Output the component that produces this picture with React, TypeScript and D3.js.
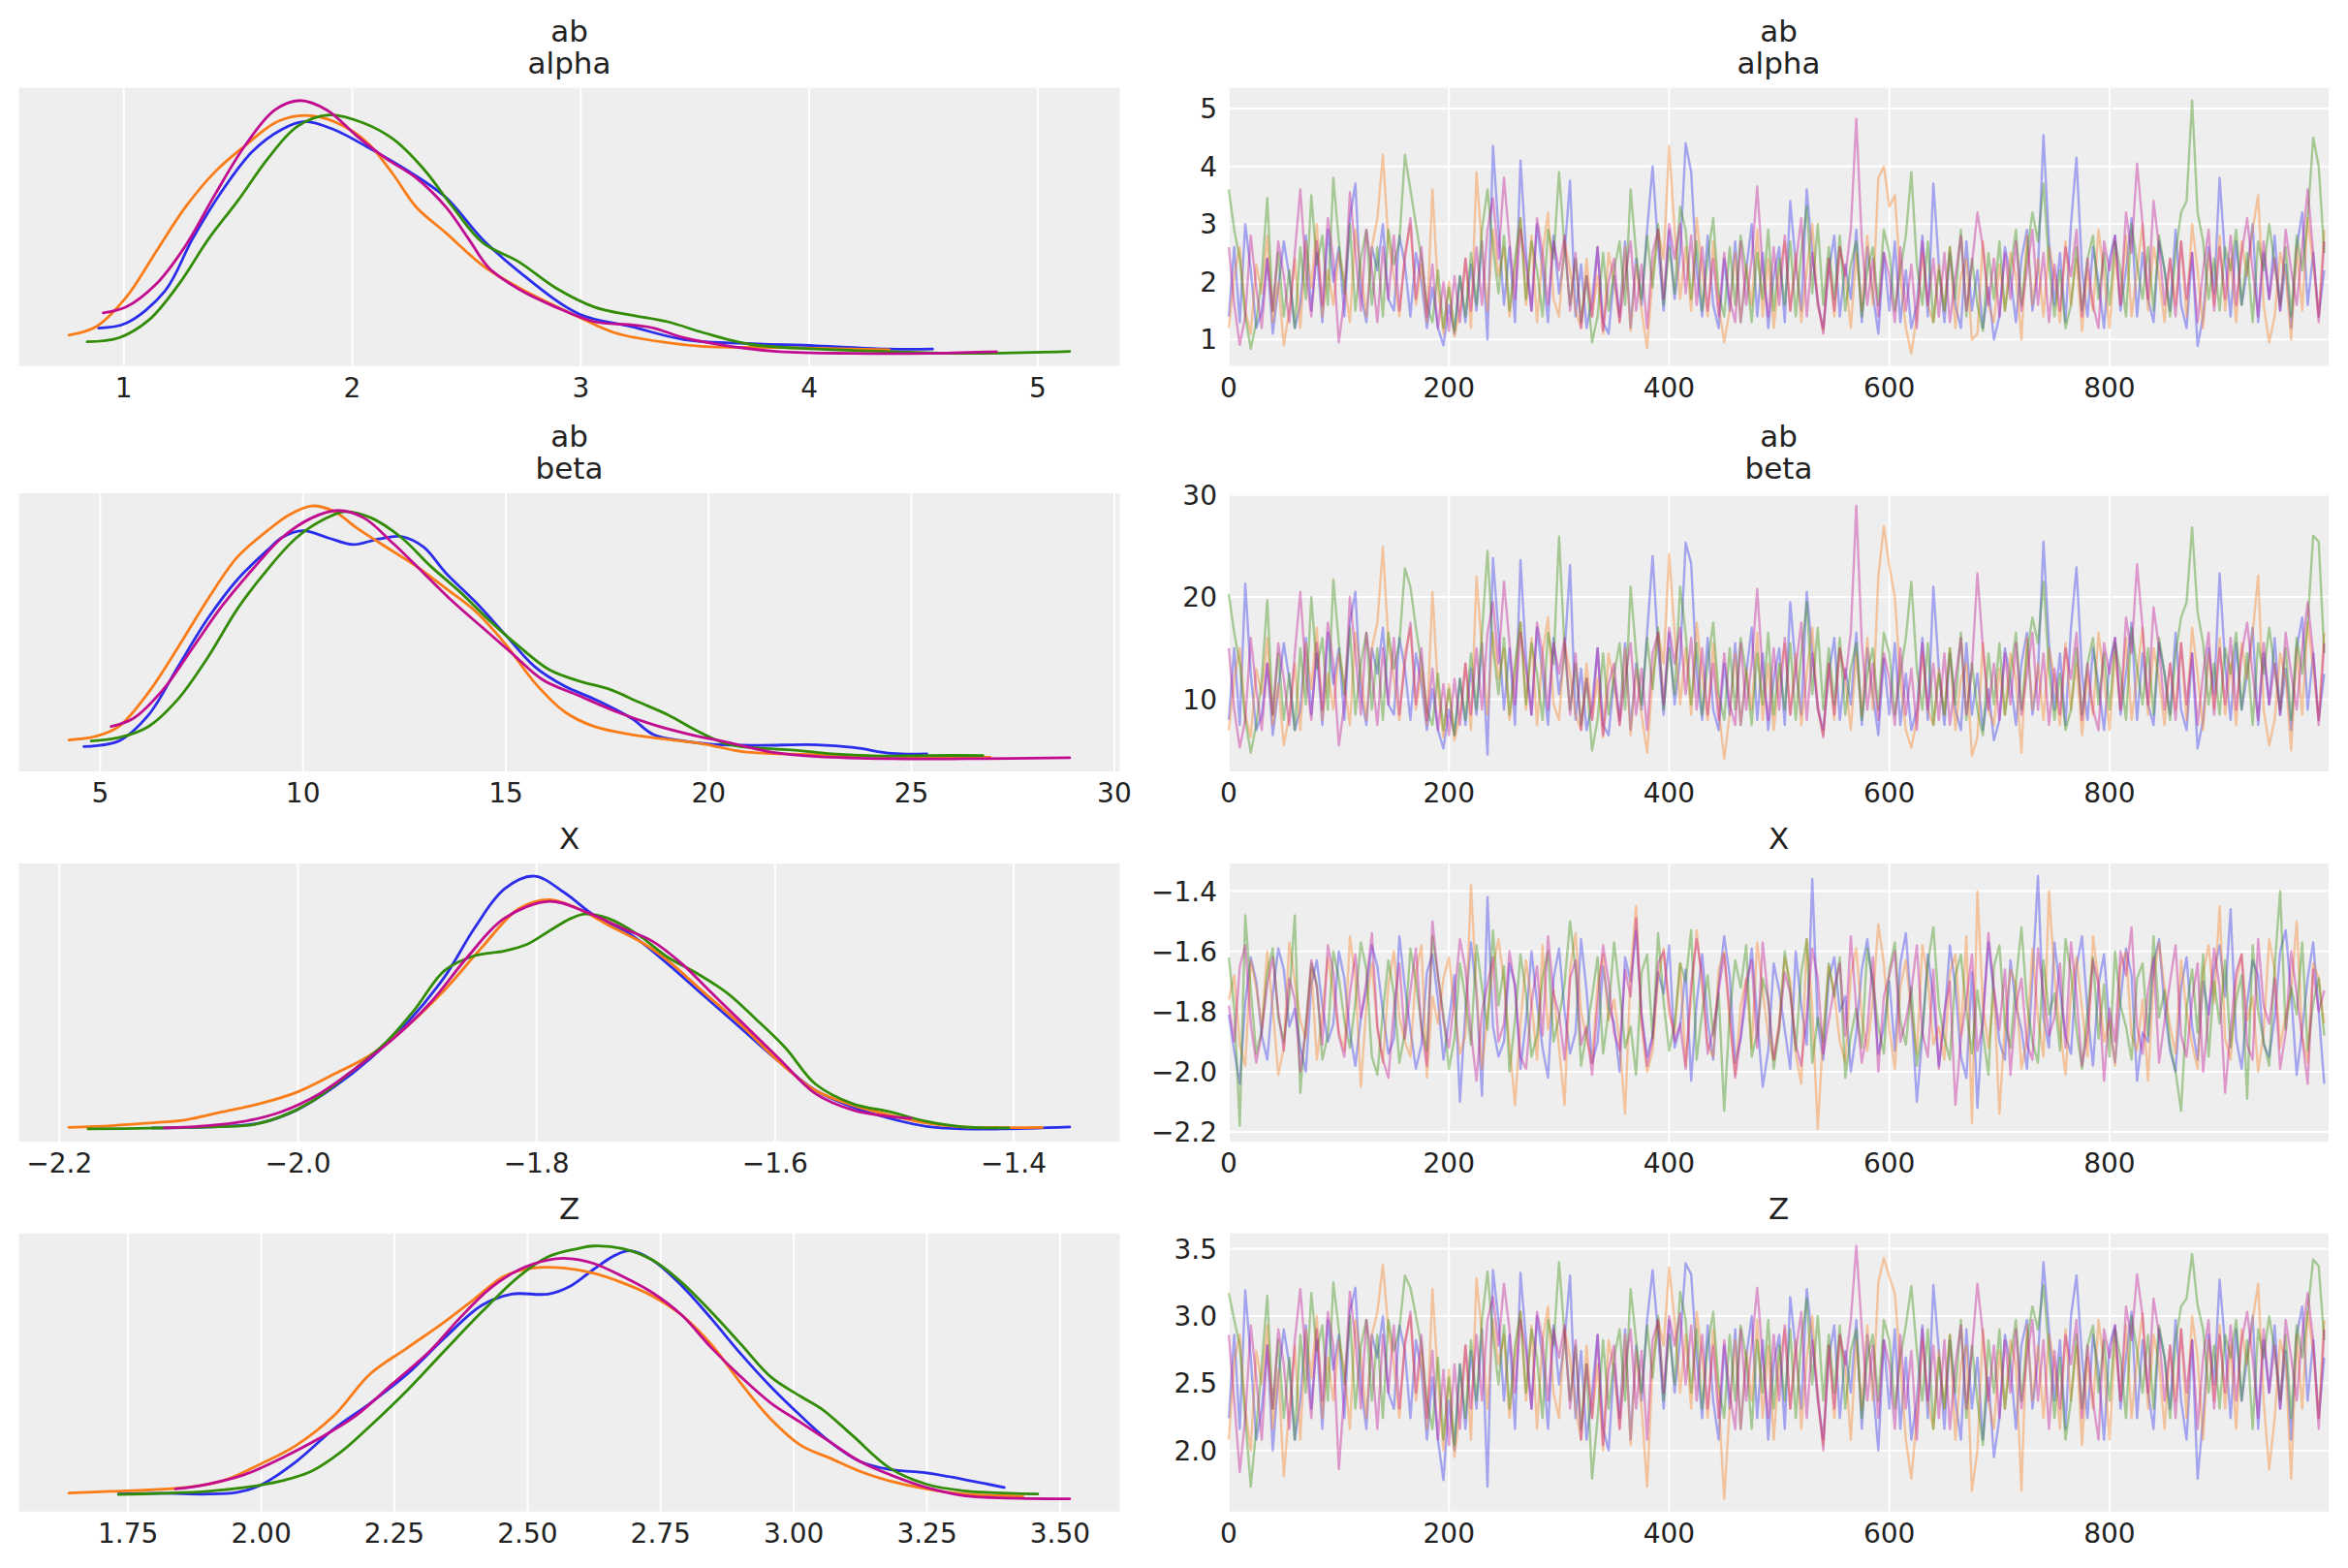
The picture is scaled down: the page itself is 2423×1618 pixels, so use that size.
import { useEffect, useRef } from 'react';
import * as d3 from 'd3';

const chainColors = ['#2a2eec', '#fa7c17', '#328c06', '#c10c90'];

// trace draws, every 5th draw kept
const thin = 5;
const drawRange: [number, number] = [0, 999];
const drawTicks = [0, 200, 400, 600, 800];

// ---- ab / alpha ----
const alphaBlue = [
  1.4, 2.6, 1.3, 3.0, 2.2, 1.2, 1.5, 2.4, 1.1, 1.9,
  2.7, 2.1, 1.2, 1.6, 2.8, 1.5, 2.5, 1.3, 2.9, 2.0,
  2.6, 1.4, 3.1, 3.7, 1.8, 1.3, 2.6, 2.2, 3.0, 1.7,
  1.5, 2.8, 2.3, 1.4, 2.5, 2.0, 1.2, 1.9, 1.2, 0.9,
  1.6, 1.1, 2.1, 1.3, 2.3, 1.5, 2.7, 1.0, 4.35, 2.9,
  1.6, 2.6, 1.3, 4.1, 2.5, 1.5, 3.0, 2.2, 1.3, 2.8,
  1.8, 2.5, 3.75, 1.4, 2.3, 1.2, 1.7, 2.6, 1.3, 1.1,
  2.1, 1.4, 2.7, 1.2, 2.4, 1.6, 2.9, 4.0, 2.6, 1.5,
  2.9, 1.7, 2.5, 4.4, 3.9, 2.2, 1.4, 2.8, 1.6, 1.2,
  2.4, 1.5, 2.7, 1.3, 2.2, 3.0, 1.4, 2.5, 1.2, 2.1,
  2.6, 1.3, 3.4, 2.3, 1.5, 3.6, 2.5, 1.6, 1.2, 2.2,
  2.8, 1.4, 2.3, 1.7, 2.9, 1.3, 2.6, 1.8, 1.1, 2.5,
  1.5, 2.7, 1.3, 2.2, 1.2, 1.6, 2.8, 1.4, 3.7, 2.3,
  1.3, 2.5, 1.6, 1.2, 2.7, 1.5, 2.2, 1.2, 1.9, 1.0,
  1.4, 2.6, 2.1, 1.3, 2.4, 2.9, 1.5, 2.2, 4.54, 2.7,
  1.6, 2.5, 1.3, 3.0, 4.15, 2.2, 1.4, 2.6, 2.0, 1.2,
  2.4, 2.8, 1.5, 2.2, 3.1, 1.4, 2.5, 1.7, 1.3, 2.7,
  2.2, 1.5, 2.9, 1.6, 1.2, 2.5, 0.89, 1.4, 2.6, 1.8,
  3.8, 2.4, 1.4, 2.7, 1.6, 2.2, 3.0, 1.3, 2.5, 1.7,
  2.8, 1.5, 2.3, 1.2, 2.6, 3.2, 1.6, 2.5, 1.4, 2.2,
];
const alphaOrange = [
  1.2, 2.1, 2.6, 1.5, 1.1, 2.3, 1.8, 2.8, 1.3, 2.0,
  0.9, 1.5, 2.4, 1.2, 2.7, 1.9, 3.0, 1.4, 2.2, 1.6,
  2.5, 2.0, 1.3, 2.9, 2.2, 1.4, 2.6, 3.1, 4.2, 2.7,
  2.1, 1.4, 2.5, 3.0, 1.6, 2.3, 1.3, 3.6, 1.9, 1.1,
  2.0, 1.05, 1.5, 2.4, 1.2, 3.9, 2.6, 1.5, 2.9, 2.1,
  2.6, 1.4, 2.2, 3.1, 1.6, 2.8, 1.3, 2.5, 3.2, 1.7,
  1.4, 2.7, 2.2, 1.5, 1.2, 2.4, 1.4, 2.1, 1.1, 2.5,
  2.0, 1.3, 2.6, 1.15, 2.3, 1.5, 0.85, 2.1, 2.9, 2.4,
  4.35, 2.9, 1.7, 2.6, 1.5, 3.1, 2.2, 1.4, 2.7, 1.6,
  0.95, 1.5, 2.5, 1.3, 2.3, 1.6, 2.9, 1.4, 2.4, 1.2,
  2.1, 2.7, 1.5, 2.5, 1.3, 2.2, 3.0, 1.6, 1.15, 2.4,
  1.4, 2.6, 2.1, 1.2, 2.5, 1.5, 2.8, 1.6, 3.8, 4.0,
  3.3, 3.5, 2.1, 1.2, 0.76, 1.4, 2.5, 1.6, 1.3, 2.3,
  1.5, 2.6, 1.2, 2.1, 2.4, 1.0, 1.1, 2.7, 1.6, 1.3,
  2.3, 1.5, 2.5, 2.1, 1.0, 2.8, 1.6, 2.4, 1.4, 2.6,
  2.1, 1.3, 2.7, 1.6, 2.4, 1.15, 2.2, 1.5, 2.9, 2.1,
  1.2, 2.5, 1.6, 2.8, 1.4, 2.2, 3.0, 1.5, 2.6, 2.1,
  1.3, 2.4, 1.6, 2.7, 1.4, 3.0, 2.2, 1.2, 2.5, 1.6,
  2.8, 1.5, 2.4, 1.3, 2.7, 2.1, 2.9, 3.5, 1.6, 0.95,
  1.4, 2.5, 2.1, 1.0, 2.6, 1.5, 3.1, 2.3, 1.4, 2.9,
];
const alphaGreen = [
  3.6, 2.9, 2.4, 1.4, 0.84, 1.3, 2.1, 3.45, 1.5, 2.5,
  1.4, 2.2, 1.2, 2.6, 1.7, 3.5, 2.3, 2.8, 1.6, 3.8,
  2.7, 1.8, 3.0, 1.5, 2.4, 2.9, 1.6, 2.6, 1.4, 2.9,
  2.3, 2.7, 4.2, 3.6, 3.0, 2.4, 1.6, 1.3, 2.2, 1.2,
  1.9, 1.15, 2.1, 1.4, 2.5, 1.6, 2.9, 3.6, 2.6, 1.8,
  2.8, 1.5, 2.4, 3.1, 1.7, 2.7, 2.2, 1.4, 2.9, 2.4,
  3.9, 2.6, 1.6, 2.4, 1.3, 2.1, 0.95, 1.4, 2.5, 1.5,
  2.2, 2.7, 1.6, 3.6, 2.5, 1.7, 2.8, 1.9, 3.0, 1.6,
  2.6, 1.8, 3.3, 2.9, 1.7, 2.7, 1.5, 2.4, 3.1, 1.8,
  1.4, 2.6, 1.6, 2.8, 2.2, 1.3, 2.5, 1.7, 2.9, 1.5,
  2.4, 1.6, 2.7, 1.4, 2.5, 3.3, 1.8, 3.0, 1.6, 2.6,
  1.7, 2.8, 1.5, 2.3, 2.7, 1.4, 2.2, 2.6, 1.6, 2.9,
  2.5, 1.5, 2.2, 2.8, 3.9, 2.3, 1.6, 2.7, 1.3, 2.2,
  1.5, 2.6, 1.7, 2.9, 1.4, 2.4, 1.6, 1.15, 2.5, 1.7,
  2.7, 1.5, 2.2, 2.9, 1.6, 2.5, 3.2, 2.7, 3.7, 2.3,
  1.4, 2.2, 1.2, 1.6, 2.6, 1.5, 2.4, 2.8, 1.7, 2.5,
  1.6, 2.7, 2.2, 1.4, 3.0, 2.3, 1.7, 2.6, 1.5, 2.8,
  2.2, 1.4, 2.5, 3.2, 3.4, 5.14, 3.2, 2.7, 1.7, 2.4,
  1.5, 2.6, 2.2, 2.9, 1.6, 2.5, 1.3, 2.7, 2.2, 3.0,
  2.3, 1.6, 2.6, 1.4, 2.8, 2.2, 3.1, 4.5, 4.0, 2.5,
];
const alphaMagenta = [
  2.6, 1.6, 0.91, 1.4, 2.8, 1.9, 1.2, 2.4, 1.5, 2.7,
  2.1, 1.3, 2.5, 3.6, 2.2, 1.4, 2.7, 1.6, 3.1, 2.4,
  0.95, 1.7, 3.55, 2.5, 1.5, 2.9, 2.2, 1.3, 2.6, 1.7,
  2.8, 1.5, 2.4, 3.1, 1.7, 2.6, 1.4, 2.3, 1.2, 2.0,
  1.15, 2.1, 1.3, 2.4, 1.5, 2.6, 1.6, 2.9, 3.45, 2.4,
  3.8, 2.7, 1.7, 2.9, 2.3, 1.5, 3.1, 2.5, 1.6, 2.7,
  2.2, 2.8, 1.5, 2.5, 1.2, 2.1, 1.4, 2.6, 1.15, 2.0,
  2.4, 1.3, 2.1, 2.7, 1.5, 2.3, 1.2, 2.5, 2.9, 1.7,
  3.0, 2.4, 3.0, 1.8, 2.8, 1.6, 2.6, 1.5, 2.4, 1.4,
  2.5, 1.7, 1.3, 2.7, 1.6, 2.4, 3.65, 2.2, 1.4, 2.6,
  1.6, 2.8, 1.5, 2.3, 3.1, 1.4, 2.5, 1.7, 1.1, 2.4,
  1.5, 2.6, 2.1, 2.9, 4.82, 2.7, 1.6, 2.4, 1.4, 2.5,
  2.1, 1.3, 2.6, 1.5, 2.3, 1.2, 2.7, 1.6, 2.4, 1.4,
  2.5, 1.3, 2.1, 2.8, 1.5, 2.3, 3.2, 2.6, 1.6, 2.4,
  1.4, 2.5, 1.7, 2.7, 1.5, 2.2, 2.9, 1.6, 2.5, 1.3,
  2.3, 1.5, 2.6, 2.1, 2.9, 1.4, 2.4, 1.6, 1.2, 2.7,
  2.2, 2.8, 1.6, 3.2, 2.5, 4.05, 3.0, 1.7, 3.4, 2.6,
  1.6, 2.4, 1.4, 2.7, 1.7, 2.5, 1.3, 2.2, 2.9, 1.5,
  2.6, 1.7, 2.8, 1.6, 2.5, 3.1, 2.2, 1.4, 2.7, 1.7,
  2.4, 1.5, 2.9, 2.2, 1.6, 2.6, 3.6, 2.5, 1.3, 2.7,
];

// ---- ab / beta ----
const betaBlue = [
  8, 15, 7.5, 21.3, 12.5, 7, 8.5, 13.5, 6.5, 11,
  15.5, 12, 7, 9, 16, 8.5, 14.5, 7.5, 16.5, 11.5,
  15, 8, 17.5, 20.5, 10.5, 7.5, 15, 12.5, 17, 9.5,
  8.5, 16, 13, 8, 14.5, 11.5, 7, 11, 7, 5.2,
  9, 6.5, 12, 7.5, 13, 8.5, 15.5, 4.6, 23.8, 16.5,
  9, 15, 7.5, 23.6, 14, 8.5, 17, 12.5, 7.5, 16,
  10.5, 14.5, 23.1, 8, 13, 7, 9.5, 15, 7.5, 6.5,
  12, 8, 15.5, 7, 13.5, 9, 16.5, 24, 15, 8.5,
  16.5, 9.5, 14, 25.3, 23.3, 12.5, 8, 16, 9, 7,
  13.5, 8.5, 15.5, 7.5, 12.5, 17, 8, 14.5, 7, 12,
  15, 7.5, 19.5, 13, 8.5, 20.5, 14.5, 9, 7, 12.5,
  16, 8, 13, 9.5, 16.5, 7.5, 15, 10.5, 6.5, 14,
  8.5, 15.5, 7.5, 12.5, 7, 9, 16, 8, 21, 13,
  7.5, 14.5, 9, 7, 15.5, 8.5, 12.5, 7, 11, 6,
  8, 15, 12, 7.5, 13.5, 16.5, 8.5, 12.5, 25.4, 15.5,
  9, 14.5, 7.5, 17, 22.9, 12.5, 8, 15, 11.5, 7,
  13.5, 16, 8.5, 12.5, 17.5, 8, 14.5, 9.5, 7.5, 15.5,
  12.5, 8.5, 16.5, 9, 7, 14.5, 5.2, 8, 15, 10.5,
  22.3, 13.5, 8, 15.5, 9, 12.5, 17, 7.5, 14.5, 9.5,
  16, 8.5, 13, 7, 15, 18, 9, 14.5, 8, 12.5,
];
const betaOrange = [
  7, 12, 15, 8.5, 6.3, 13, 10.5, 16, 7.5, 11.5,
  5.5, 8.5, 13.5, 7, 15.5, 11, 17, 8, 12.5, 9,
  14.5, 11.5, 7.5, 16.5, 12.5, 8, 15, 17.5, 24.9, 15.5,
  12, 8, 14.5, 17, 9, 13, 7.5, 20.5, 11, 6.3,
  11.5, 6, 8.5, 13.5, 7, 22, 15, 8.5, 16.5, 12,
  15, 8, 12.5, 17.5, 9, 16, 7.5, 14.5, 18, 9.5,
  8, 15.5, 12.5, 8.5, 7, 13.5, 8, 12, 6.3, 14.5,
  11.5, 7.5, 15, 6.5, 13, 8.5, 4.8, 12, 16.5, 13.5,
  24.2, 16.5, 9.5, 15, 8.5, 17.5, 12.5, 8, 15.5, 9,
  4.2, 8.5, 14.5, 7.5, 13, 9, 16.5, 8, 13.5, 7,
  12, 15.5, 8.5, 14.5, 7.5, 12.5, 17, 9, 6.5, 13.5,
  8, 15, 12, 7, 14.5, 8.5, 16, 9, 22, 26.9,
  23, 20, 12, 7, 5.3, 8, 14.5, 9, 7.5, 13,
  8.5, 15, 7, 12, 13.5, 4.5, 6.3, 15.5, 9, 7.5,
  13, 8.5, 14.5, 12, 4.8, 16, 9, 13.5, 8, 15,
  12, 7.5, 15.5, 9, 13.5, 6.5, 12.5, 8.5, 16.5, 12,
  7, 14.5, 9, 16, 8, 12.5, 17, 8.5, 15, 12,
  7.5, 13.5, 9, 15.5, 8, 17, 12.5, 7, 14.5, 9,
  16, 8.5, 13.5, 7.5, 15.5, 12, 16.5, 22.1, 9, 5.5,
  8, 14.5, 12, 5, 15, 8.5, 17.5, 13, 8, 16.5,
];
const betaGreen = [
  20.3, 16.5, 13.5, 8, 4.8, 7.5, 12, 19.7, 8.5, 14.5,
  8, 12.5, 7, 15, 9.5, 20, 13, 16, 9, 21.7,
  15.5, 10.5, 17, 8.5, 13.5, 16.5, 9, 15, 8, 16.5,
  13, 15.5, 22.8, 21, 17, 13.5, 9, 7.5, 12.5, 7,
  11, 6.5, 12, 8, 14.5, 9, 16.5, 24.5, 15, 10.5,
  16, 8.5, 13.5, 17.5, 9.5, 15.5, 12.5, 8, 16.5, 13.5,
  25.9, 15, 9, 13.5, 7.5, 12, 5, 8, 14.5, 8.5,
  12.5, 15.5, 9, 21, 14.5, 9.5, 16, 11, 17, 9,
  15, 10.5, 21, 16.5, 9.5, 15.5, 8.5, 13.5, 17.5, 10.5,
  8, 15, 9, 16, 12.5, 7.5, 14.5, 9.5, 16.5, 8.5,
  13.5, 9, 15.5, 8, 14.5, 19.5, 10.5, 17, 9, 15,
  9.5, 16, 8.5, 13, 15.5, 8, 12.5, 15, 9, 16.5,
  14.5, 8.5, 12.5, 16, 21.5, 13, 9, 15.5, 7.5, 12.5,
  8.5, 15, 9.5, 16.5, 8, 13.5, 9, 6.5, 14.5, 9.5,
  15.5, 8.5, 12.5, 16.5, 9, 14.5, 18, 15.5, 21.5, 13,
  8, 12.5, 7, 9, 15, 8.5, 13.5, 16, 9.5, 14.5,
  9, 15.5, 12.5, 8, 17, 13, 9.5, 15, 8.5, 16,
  12.5, 8, 14.5, 18, 19.5, 26.8, 18.5, 15.5, 9.5, 13.5,
  8.5, 15, 12.5, 16.5, 9, 14.5, 7.5, 15.5, 12.5, 17,
  13, 9, 15, 8, 16, 12.5, 17.5, 26, 25.4, 14.5,
];
const betaMagenta = [
  15, 9, 5.3, 8, 16, 11, 7, 13.5, 8.5, 15.5,
  12, 7.5, 14.5, 20.5, 12.5, 8, 15.5, 9, 17.5, 13.5,
  5.5, 9.5, 20, 14.5, 8.5, 16.5, 12.5, 7.5, 15, 9.5,
  16, 8.5, 13.5, 17.5, 9.5, 15, 8, 13, 7, 11.5,
  6.5, 12, 7.5, 13.5, 8.5, 15, 9, 16.5, 19.5, 13.5,
  21.5, 15.5, 9.5, 16.5, 13, 8.5, 17.5, 14.5, 9, 15.5,
  12.5, 16, 8.5, 14.5, 7, 12, 8, 15, 6.5, 11.5,
  13.5, 7.5, 12, 15.5, 8.5, 13, 7, 14.5, 16.5, 9.5,
  17, 13.5, 17, 10.5, 16, 9, 15, 8.5, 13.5, 8,
  14.5, 9.5, 7.5, 15.5, 9, 13.5, 20.8, 12.5, 8, 15,
  9, 16, 8.5, 13, 17.5, 8, 14.5, 9.5, 6.3, 13.5,
  8.5, 15, 12, 16.5, 28.9, 15.5, 9, 13.5, 8, 14.5,
  12, 7.5, 15, 8.5, 13, 7, 15.5, 9, 13.5, 8,
  14.5, 7.5, 12, 16, 8.5, 13, 22.3, 15, 9, 13.5,
  8, 14.5, 9.5, 15.5, 8.5, 12.5, 16.5, 9, 14.5, 7.5,
  13, 8.5, 15, 12, 16.5, 8, 13.5, 9, 7, 15.5,
  12.5, 16, 9, 18, 14.5, 23.2, 17, 9.5, 19, 15,
  9, 13.5, 8, 15.5, 9.5, 14.5, 7.5, 12.5, 16.5, 8.5,
  15, 9.5, 16, 9, 14.5, 17.5, 12.5, 8, 15.5, 9.5,
  13.5, 8.5, 16.5, 12.5, 9, 15, 19.5, 14.5, 7.5, 15.5,
];

// ---- X ----
const xBlue = [
  -1.81, -1.93, -2.04, -1.77, -1.62, -1.70, -1.88, -1.96, -1.74, -1.59,
  -1.66, -1.85, -1.79, -1.92, -2.00, -1.71, -1.63, -1.78, -1.90, -1.84,
  -1.60, -1.69, -1.87, -1.98, -1.82, -1.73, -1.58, -1.65, -1.80, -1.94,
  -1.89, -1.55, -1.72, -1.86, -1.99, -1.91, -1.67, -1.61, -1.76, -1.96,
  -1.83, -1.68, -2.10, -1.79, -1.57, -1.74, -2.08, -1.42, -1.85, -1.95,
  -1.90, -1.64, -1.71, -1.99, -1.83, -1.60, -1.77, -1.92, -2.02, -1.69,
  -1.59, -1.80, -1.94, -1.87, -1.56, -1.73, -1.97, -1.90, -1.65, -1.78,
  -1.84, -2.00, -1.62, -1.70, -1.53, -1.81, -1.95, -1.88, -1.67, -1.74,
  -1.58, -1.92, -1.85, -1.66, -2.03, -1.77, -1.61, -1.83, -1.96, -1.71,
  -1.55, -1.68, -1.97, -1.89, -1.75, -1.59, -1.82, -2.05, -1.93, -1.64,
  -1.73, -1.86, -1.99, -1.60, -1.78, -1.91, -1.36, -1.84, -1.96, -1.69,
  -1.62, -1.80, -1.75, -2.00, -1.87, -1.66, -1.56, -1.72, -1.94, -1.85,
  -1.70, -1.93, -1.64, -1.54, -1.79, -2.10, -1.88, -1.61, -1.76, -1.98,
  -1.83, -1.58, -1.72, -1.95, -2.02, -1.67, -2.12, -1.81, -1.57, -1.74,
  -1.90, -1.96, -1.63, -1.78, -1.86, -1.99, -1.69, -1.35, -1.82, -1.92,
  -1.57, -1.73, -1.88, -1.94, -1.65, -1.55, -1.80, -1.98, -1.71, -1.61,
  -1.84, -1.97, -1.76, -1.59, -1.68, -2.03, -1.87, -1.90, -1.64, -1.56,
  -1.79, -1.93, -2.00, -1.72, -1.62, -1.85, -1.96, -1.70, -1.81, -1.66,
  -1.58, -1.75, -1.46, -1.89, -1.99, -1.77, -1.63, -1.68, -1.91, -1.95,
  -1.82, -1.60, -1.53, -1.74, -2.01, -1.86, -1.69, -1.57, -1.80, -2.04,
];
const xOrange = [
  -1.76, -1.68, -1.91, -1.98, -1.63, -1.72, -1.85, -1.60, -1.79, -2.01,
  -1.92, -1.57, -1.70, -1.83, -1.89, -1.66, -1.96, -1.81, -1.62, -1.74,
  -1.87, -1.93, -1.55, -1.69, -2.05, -1.78, -1.64, -1.86, -1.97, -1.71,
  -1.60, -1.82, -1.90, -1.95, -1.67, -1.58, -2.02, -1.75, -1.84, -1.69,
  -1.62, -1.79, -1.94, -1.88, -1.38, -1.73, -1.99, -1.81, -1.65, -1.56,
  -1.70, -1.91, -2.11, -1.84, -1.63, -1.77, -1.96, -1.58, -1.86, -1.73,
  -1.92, -2.11, -1.66, -1.54, -1.80, -1.89, -1.97, -1.71, -1.61, -1.83,
  -1.76, -1.90, -2.14, -1.67, -1.45, -1.85, -2.00, -1.93, -1.69, -1.59,
  -1.81, -1.87, -1.64, -1.98, -1.75, -1.53, -1.72, -1.91, -1.95, -1.66,
  -1.60, -1.84, -2.01, -1.78, -1.69, -1.92, -1.57, -1.73, -1.88, -1.96,
  -1.83, -1.62, -1.70, -1.94, -2.04, -1.56, -1.79, -2.19, -1.87, -1.65,
  -1.74, -1.90, -1.97, -1.68, -1.59, -1.82, -1.93, -1.76, -1.51, -1.64,
  -1.86, -1.99, -1.72, -1.63, -1.80, -1.94, -1.58, -1.69, -1.91, -1.85,
  -1.96, -1.67, -1.61, -1.88, -1.55, -2.17, -1.40, -1.78, -1.92, -1.73,
  -2.14, -1.84, -1.66, -1.71, -1.99, -1.89, -1.59, -1.82, -1.95, -1.40,
  -1.68, -1.86, -2.01, -1.74, -1.62, -1.79, -1.95, -1.55, -1.70, -1.90,
  -1.83, -1.98, -1.65, -1.60, -1.88, -1.93, -1.76, -2.03, -1.69, -1.57,
  -1.72, -1.85, -1.94, -1.63, -1.80, -1.91, -1.99, -1.67, -1.58, -1.77,
  -1.45, -1.89, -1.96, -1.70, -1.61, -1.83, -1.75, -2.00, -1.87, -1.56,
  -1.66, -1.92, -1.81, -1.73, -1.50, -1.88, -1.97, -1.64, -1.69, -1.84,
];
const xGreen = [
  -1.62, -1.79, -2.18, -1.48, -1.73, -1.94, -1.86, -1.67, -1.59, -1.82,
  -1.90, -1.75, -1.48, -2.07, -1.84, -1.64, -1.71, -1.96, -1.88, -1.60,
  -1.69, -1.83, -1.92, -1.77, -1.57, -1.66, -1.95, -2.01, -1.80, -1.63,
  -1.74, -1.97, -1.87, -1.59, -1.70, -1.85, -1.93, -1.55, -1.68, -1.81,
  -1.99, -1.89, -1.64, -1.76, -1.91, -1.58, -1.72, -1.86, -1.53, -1.78,
  -1.65, -2.00, -1.83, -1.61, -1.74, -1.95, -1.88, -1.69, -1.60, -1.90,
  -1.82, -1.71, -1.50, -1.66, -1.98, -1.87, -1.75, -1.62, -1.94, -1.80,
  -1.57, -1.73, -1.92, -1.85, -2.01, -1.67, -1.61, -1.89, -1.54, -1.77,
  -1.93, -1.84, -1.64, -1.70, -1.53, -1.96, -1.80, -1.68, -1.88, -1.74,
  -2.13, -1.81, -1.63, -1.72, -1.58, -1.95, -1.87, -1.69, -1.76, -1.99,
  -1.86, -1.60, -1.73, -1.93, -1.67, -1.56, -1.97, -1.82, -1.90, -1.64,
  -1.75, -1.62, -2.02, -1.88, -1.79, -1.92, -1.59, -1.70, -1.85, -1.94,
  -1.66, -1.57, -1.83, -1.91, -1.72, -1.98, -1.86, -1.64, -1.52, -1.78,
  -1.89, -1.96, -1.68, -1.61, -1.80, -1.94, -1.73, -1.87, -2.01, -1.65,
  -1.58, -1.84, -1.92, -1.70, -1.52, -1.77, -1.90, -1.97, -1.63, -1.81,
  -1.74, -1.93, -1.56, -1.67, -1.86, -1.99, -1.80, -1.62, -1.89, -1.71,
  -1.95, -1.60, -1.78, -1.85, -1.96, -1.69, -1.64, -1.88, -1.55, -1.82,
  -1.73, -1.91, -2.00, -2.13, -1.79, -1.66, -1.87, -1.61, -1.95, -1.70,
  -1.84, -1.63, -1.92, -1.76, -1.68, -2.09, -1.58, -1.80, -1.90, -1.98,
  -1.65, -1.40, -1.86, -1.72, -1.81, -1.57, -1.93, -1.77, -1.69, -1.88,
];
const xMagenta = [
  -1.78, -1.90, -1.65, -1.58, -1.84, -1.97, -1.87, -1.71, -1.62, -1.80,
  -1.93, -1.69, -1.76, -2.00, -1.86, -1.63, -1.72, -1.91, -1.58, -1.67,
  -1.88, -1.95, -1.74, -1.61, -1.82, -1.70, -1.54, -1.85, -1.96, -2.02,
  -1.79, -1.64, -1.89, -1.73, -1.59, -1.86, -1.98, -1.50, -1.68, -1.83,
  -1.92, -1.75, -1.56, -1.66, -1.87, -2.03, -1.80, -1.71, -1.62, -1.90,
  -1.84, -1.60, -1.72, -1.95, -1.99, -1.77, -1.65, -1.88, -1.55, -1.74,
  -1.81, -1.96, -1.69, -1.63, -1.91, -1.85, -2.01, -1.78, -1.58, -1.70,
  -1.87, -1.93, -1.66, -1.75, -1.49, -1.82, -1.98, -1.89, -1.64, -1.60,
  -1.77, -1.90, -1.84, -1.99, -1.71, -1.56, -1.68, -1.94, -1.86, -1.73,
  -1.61, -1.80, -2.02, -1.88, -1.70, -1.63, -1.92, -1.57, -1.76, -1.96,
  -1.85, -1.67, -1.74, -1.91, -1.98, -1.81, -1.59, -1.69, -1.94, -1.83,
  -1.72, -1.64, -1.88, -1.55, -1.79, -1.97, -1.86, -1.62, -2.00, -1.75,
  -1.68, -1.60, -1.90, -1.83, -1.73, -1.58, -1.87, -1.95, -1.66, -1.99,
  -1.80, -1.70, -2.11, -1.89, -1.76, -1.61, -1.93, -1.84, -1.54, -1.72,
  -1.86, -1.66, -2.01, -1.78, -1.69, -1.91, -1.96, -1.59, -1.74, -1.88,
  -1.82, -1.64, -1.92, -1.57, -1.75, -1.98, -1.87, -1.63, -1.71, -2.03,
  -1.79, -1.90, -1.60, -1.68, -1.52, -1.85, -1.94, -1.73, -1.62, -1.97,
  -1.83, -1.70, -1.58, -1.88, -1.95, -1.76, -1.64, -2.00, -1.81, -1.59,
  -1.72, -2.07, -1.86, -1.67, -1.61, -1.91, -1.96, -1.56, -1.78, -1.84,
  -1.69, -1.99, -1.87, -1.60, -1.74, -1.89, -2.04, -1.66, -1.80, -1.73,
];

// ---- Z ----
const zBlue = [
  2.24, 2.86, 2.16, 3.19, 2.69, 2.08, 2.31, 2.78, 2.00, 2.54,
  2.90, 2.64, 2.08, 2.37, 2.93, 2.31, 2.82, 2.16, 2.97, 2.60,
  2.86, 2.24, 3.03, 3.21, 2.49, 2.16, 2.86, 2.69, 3.00, 2.43,
  2.31, 2.93, 2.74, 2.24, 2.82, 2.60, 2.08, 2.54, 2.08, 1.78,
  2.37, 2.00, 2.64, 2.16, 2.74, 2.31, 2.90, 1.73, 3.34, 2.97,
  2.37, 2.86, 2.16, 3.32, 2.82, 2.31, 3.00, 2.69, 2.16, 2.93,
  2.49, 2.82, 3.30, 2.24, 2.74, 2.08, 2.43, 2.86, 2.16, 2.00,
  2.64, 2.24, 2.90, 2.08, 2.78, 2.37, 2.97, 3.34, 2.86, 2.31,
  2.97, 2.43, 2.82, 3.39, 3.31, 2.69, 2.24, 2.93, 2.37, 2.08,
  2.78, 2.31, 2.90, 2.16, 2.69, 3.00, 2.24, 2.82, 2.08, 2.64,
  2.86, 2.16, 3.14, 2.74, 2.31, 3.20, 2.82, 2.37, 2.08, 2.69,
  2.93, 2.24, 2.74, 2.43, 2.97, 2.16, 2.86, 2.49, 2.00, 2.82,
  2.31, 2.90, 2.16, 2.69, 2.08, 2.37, 2.93, 2.24, 3.23, 2.74,
  2.16, 2.82, 2.37, 2.08, 2.90, 2.31, 2.69, 2.08, 2.54, 1.95,
  2.24, 2.86, 2.64, 2.16, 2.78, 2.97, 2.31, 2.69, 3.40, 2.90,
  2.37, 2.82, 2.16, 3.00, 3.30, 2.69, 2.24, 2.86, 2.60, 2.08,
  2.78, 2.93, 2.31, 2.69, 3.03, 2.24, 2.82, 2.43, 2.16, 2.90,
  2.69, 2.31, 2.97, 2.37, 2.08, 2.82, 1.79, 2.24, 2.86, 2.49,
  3.27, 2.78, 2.24, 2.90, 2.37, 2.69, 3.00, 2.16, 2.82, 2.43,
  2.93, 2.31, 2.74, 2.08, 2.86, 3.07, 2.37, 2.82, 2.24, 2.69,
];
const zOrange = [
  2.08, 2.66, 2.86, 2.31, 2.00, 2.74, 2.49, 2.93, 2.16, 2.60,
  1.81, 2.31, 2.78, 2.08, 2.90, 2.54, 3.00, 2.24, 2.69, 2.37,
  2.82, 2.60, 2.16, 2.97, 2.69, 2.24, 2.86, 3.03, 3.38, 2.90,
  2.64, 2.24, 2.82, 3.00, 2.37, 2.74, 2.16, 3.20, 2.54, 2.00,
  2.60, 1.95, 2.31, 2.78, 2.08, 3.28, 2.86, 2.31, 2.97, 2.64,
  2.86, 2.24, 2.69, 3.03, 2.37, 2.93, 2.16, 2.82, 3.07, 2.43,
  2.24, 2.90, 2.69, 2.31, 2.08, 2.78, 2.24, 2.64, 2.00, 2.82,
  2.60, 2.16, 2.86, 2.04, 2.74, 2.31, 1.73, 2.64, 2.97, 2.78,
  3.36, 2.97, 2.43, 2.86, 2.31, 3.03, 2.69, 2.24, 2.90, 2.37,
  1.64, 2.31, 2.82, 2.16, 2.74, 2.37, 2.97, 2.24, 2.78, 2.08,
  2.64, 2.90, 2.31, 2.82, 2.16, 2.69, 3.00, 2.37, 2.04, 2.78,
  2.24, 2.86, 2.64, 2.08, 2.82, 2.31, 2.93, 2.37, 3.25, 3.43,
  3.29, 3.17, 2.64, 2.08, 1.79, 2.24, 2.82, 2.37, 2.16, 2.74,
  2.31, 2.86, 2.08, 2.64, 2.78, 1.70, 2.00, 2.90, 2.37, 2.16,
  2.74, 2.31, 2.82, 2.64, 1.70, 2.93, 2.37, 2.78, 2.24, 2.86,
  2.64, 2.16, 2.90, 2.37, 2.78, 2.04, 2.69, 2.31, 2.97, 2.64,
  2.08, 2.82, 2.37, 2.93, 2.24, 2.69, 3.02, 2.31, 2.86, 2.64,
  2.16, 2.78, 2.37, 2.90, 2.24, 3.00, 2.69, 2.08, 2.82, 2.37,
  2.93, 2.31, 2.78, 2.16, 2.90, 2.64, 2.97, 3.24, 2.37, 1.86,
  2.24, 2.82, 2.64, 1.79, 2.86, 2.31, 3.03, 2.74, 2.24, 2.97,
];
const zGreen = [
  3.17, 2.97, 2.78, 2.24, 1.73, 2.16, 2.64, 3.15, 2.31, 2.82,
  2.24, 2.69, 2.08, 2.86, 2.43, 3.17, 2.74, 2.93, 2.37, 3.25,
  2.90, 2.49, 3.00, 2.31, 2.78, 2.97, 2.37, 2.86, 2.24, 2.97,
  2.74, 2.90, 3.30, 3.21, 3.00, 2.78, 2.37, 2.16, 2.69, 2.08,
  2.54, 2.04, 2.64, 2.24, 2.82, 2.37, 2.97, 3.33, 2.86, 2.49,
  2.93, 2.31, 2.78, 3.03, 2.43, 2.90, 2.69, 2.24, 2.97, 2.78,
  3.40, 2.86, 2.37, 2.78, 2.16, 2.64, 1.79, 2.24, 2.82, 2.31,
  2.69, 2.90, 2.37, 3.20, 2.82, 2.43, 2.93, 2.54, 3.00, 2.37,
  2.86, 2.49, 3.18, 2.97, 2.43, 2.90, 2.31, 2.78, 3.03, 2.49,
  2.24, 2.86, 2.37, 2.93, 2.69, 2.16, 2.82, 2.43, 2.97, 2.31,
  2.78, 2.37, 2.90, 2.24, 2.82, 3.13, 2.49, 3.00, 2.37, 2.86,
  2.43, 2.93, 2.31, 2.74, 2.90, 2.24, 2.69, 2.86, 2.37, 2.97,
  2.82, 2.31, 2.69, 2.93, 3.22, 2.74, 2.37, 2.90, 2.16, 2.69,
  2.31, 2.86, 2.43, 2.97, 2.24, 2.78, 2.37, 2.04, 2.82, 2.43,
  2.90, 2.31, 2.69, 2.97, 2.37, 2.82, 3.07, 2.90, 3.23, 2.74,
  2.24, 2.69, 2.08, 2.37, 2.86, 2.31, 2.78, 2.93, 2.43, 2.82,
  2.37, 2.90, 2.69, 2.24, 3.00, 2.74, 2.43, 2.86, 2.31, 2.93,
  2.69, 2.24, 2.82, 3.07, 3.13, 3.46, 3.08, 2.90, 2.43, 2.78,
  2.31, 2.86, 2.69, 2.97, 2.37, 2.82, 2.16, 2.90, 2.69, 3.00,
  2.74, 2.37, 2.86, 2.24, 2.93, 2.69, 3.03, 3.42, 3.37, 2.82,
];
const zMagenta = [
  2.86, 2.37, 1.84, 2.24, 2.93, 2.54, 2.08, 2.78, 2.31, 2.90,
  2.64, 2.16, 2.82, 3.20, 2.69, 2.24, 2.90, 2.37, 3.03, 2.78,
  1.86, 2.43, 3.18, 2.82, 2.31, 2.97, 2.69, 2.16, 2.86, 2.43,
  2.93, 2.31, 2.78, 3.03, 2.43, 2.86, 2.24, 2.74, 2.08, 2.60,
  2.04, 2.64, 2.16, 2.78, 2.31, 2.86, 2.37, 2.97, 3.14, 2.78,
  3.24, 2.90, 2.43, 2.97, 2.74, 2.31, 3.03, 2.82, 2.37, 2.90,
  2.69, 2.93, 2.31, 2.82, 2.08, 2.64, 2.24, 2.86, 2.04, 2.60,
  2.78, 2.16, 2.64, 2.90, 2.31, 2.74, 2.08, 2.82, 2.97, 2.43,
  3.00, 2.78, 3.02, 2.49, 2.93, 2.37, 2.86, 2.31, 2.78, 2.24,
  2.82, 2.43, 2.16, 2.90, 2.37, 2.78, 3.21, 2.69, 2.24, 2.86,
  2.37, 2.93, 2.31, 2.74, 3.03, 2.24, 2.82, 2.43, 2.00, 2.78,
  2.31, 2.86, 2.64, 2.97, 3.52, 2.90, 2.37, 2.78, 2.24, 2.82,
  2.64, 2.16, 2.86, 2.31, 2.74, 2.08, 2.90, 2.37, 2.78, 2.24,
  2.82, 2.16, 2.64, 2.93, 2.31, 2.74, 3.24, 2.86, 2.37, 2.78,
  2.24, 2.82, 2.43, 2.90, 2.31, 2.69, 2.97, 2.37, 2.82, 2.16,
  2.74, 2.31, 2.86, 2.64, 2.97, 2.24, 2.78, 2.37, 2.08, 2.90,
  2.69, 2.93, 2.37, 3.07, 2.82, 3.31, 3.00, 2.43, 3.13, 2.86,
  2.37, 2.78, 2.24, 2.90, 2.43, 2.82, 2.16, 2.69, 2.97, 2.31,
  2.86, 2.43, 2.93, 2.37, 2.82, 3.03, 2.69, 2.24, 2.90, 2.43,
  2.78, 2.31, 2.97, 2.69, 2.37, 2.86, 3.17, 2.82, 2.16, 2.90,
];

// ---- kernel density estimates: [value, relative density] ----
const alphaKdeBlue = [[0.89, 0.101], [1.01, 0.12], [1.18, 0.247], [1.3, 0.452], [1.43, 0.643], [1.56, 0.796], [1.69, 0.885], [1.79, 0.917], [1.92, 0.885], [2.08, 0.809], [2.25, 0.719], [2.41, 0.617], [2.57, 0.452], [2.73, 0.324], [2.99, 0.158], [3.22, 0.107], [3.45, 0.056], [3.7, 0.041], [4.03, 0.031], [4.35, 0.018], [4.54, 0.018]];
const alphaKdeOrange = [[0.76, 0.073], [0.88, 0.107], [1.01, 0.222], [1.14, 0.401], [1.27, 0.579], [1.4, 0.719], [1.53, 0.821], [1.66, 0.911], [1.76, 0.939], [1.86, 0.934], [1.99, 0.885], [2.08, 0.821], [2.18, 0.707], [2.28, 0.579], [2.41, 0.477], [2.57, 0.349], [2.73, 0.26], [2.99, 0.145], [3.15, 0.082], [3.38, 0.043], [3.54, 0.028], [3.87, 0.024], [4.35, 0.015]];
const alphaKdeGreen = [[0.84, 0.047], [0.98, 0.063], [1.11, 0.133], [1.24, 0.273], [1.37, 0.452], [1.5, 0.605], [1.63, 0.77], [1.76, 0.898], [1.9, 0.943], [2.05, 0.911], [2.18, 0.847], [2.31, 0.732], [2.44, 0.579], [2.57, 0.439], [2.73, 0.362], [2.89, 0.26], [3.06, 0.184], [3.22, 0.152], [3.38, 0.126], [3.54, 0.082], [3.74, 0.037], [4.03, 0.018], [4.35, 0.008], [4.68, 0.001], [5.14, 0.009]];
const alphaKdeMagenta = [[0.91, 0.161], [1.01, 0.184], [1.14, 0.273], [1.27, 0.426], [1.4, 0.63], [1.53, 0.821], [1.66, 0.962], [1.77, 1.0], [1.89, 0.962], [2.02, 0.86], [2.15, 0.77], [2.28, 0.694], [2.41, 0.579], [2.51, 0.452], [2.6, 0.337], [2.73, 0.254], [2.89, 0.184], [3.06, 0.126], [3.22, 0.114], [3.32, 0.101], [3.45, 0.063], [3.64, 0.031], [3.87, 0.008], [4.19, 0.001], [4.52, 0.001], [4.82, 0.008]];

const betaKdeBlue = [[4.6, 0.052], [5.46, 0.074], [6.19, 0.176], [6.92, 0.367], [7.66, 0.558], [8.39, 0.711], [9.12, 0.825], [9.49, 0.876], [10.0, 0.902], [10.59, 0.876], [11.23, 0.848], [11.87, 0.87], [12.42, 0.879], [12.97, 0.838], [13.52, 0.736], [14.25, 0.622], [14.98, 0.494], [15.71, 0.367], [16.45, 0.29], [17.18, 0.239], [18.1, 0.163], [18.64, 0.099], [19.38, 0.074], [20.11, 0.061], [21.21, 0.057], [22.67, 0.059], [23.59, 0.048], [24.51, 0.025], [25.38, 0.023]];
const betaKdeOrange = [[4.23, 0.078], [4.91, 0.093], [5.46, 0.131], [6.19, 0.265], [6.92, 0.443], [7.66, 0.634], [8.39, 0.8], [9.12, 0.902], [9.67, 0.966], [10.22, 1.0], [10.77, 0.978], [11.31, 0.915], [12.05, 0.838], [12.78, 0.764], [13.52, 0.675], [14.25, 0.585], [14.98, 0.458], [15.71, 0.304], [16.45, 0.189], [17.18, 0.131], [18.1, 0.099], [19.01, 0.08], [19.93, 0.061], [20.84, 0.032], [22.67, 0.02], [24.51, 0.013], [26.94, 0.01]];
const betaKdeGreen = [[4.78, 0.074], [5.46, 0.087], [6.19, 0.131], [6.92, 0.239], [7.66, 0.405], [8.39, 0.596], [9.12, 0.749], [9.85, 0.876], [10.59, 0.953], [11.04, 0.978], [11.68, 0.953], [12.42, 0.876], [13.15, 0.762], [13.88, 0.66], [14.62, 0.545], [15.35, 0.443], [16.08, 0.354], [16.81, 0.31], [17.55, 0.278], [18.28, 0.227], [19.01, 0.176], [19.74, 0.112], [20.48, 0.061], [21.21, 0.046], [22.12, 0.038], [23.04, 0.023], [24.14, 0.015], [25.42, 0.017], [26.76, 0.017]];
const betaKdeMagenta = [[5.27, 0.131], [5.82, 0.163], [6.56, 0.278], [7.29, 0.443], [8.02, 0.609], [8.75, 0.749], [9.49, 0.876], [10.22, 0.953], [10.86, 0.982], [11.5, 0.953], [12.23, 0.851], [12.97, 0.736], [13.7, 0.622], [14.43, 0.52], [15.16, 0.418], [15.9, 0.316], [16.81, 0.252], [17.73, 0.189], [18.64, 0.138], [19.56, 0.099], [20.48, 0.068], [21.58, 0.029], [22.67, 0.013], [24.51, 0.004], [26.34, 0.004], [28.9, 0.008]];

const xKdeBlue = [[-2.122, 0.004], [-2.063, 0.01], [-2.032, 0.023], [-2.001, 0.075], [-1.97, 0.165], [-1.939, 0.28], [-1.908, 0.422], [-1.877, 0.602], [-1.852, 0.794], [-1.827, 0.949], [-1.802, 1.0], [-1.777, 0.936], [-1.752, 0.846], [-1.721, 0.769], [-1.69, 0.653], [-1.659, 0.524], [-1.628, 0.396], [-1.597, 0.267], [-1.566, 0.152], [-1.535, 0.087], [-1.504, 0.042], [-1.473, 0.01], [-1.442, 0.0], [-1.411, 0.0], [-1.353, 0.008]];
const xKdeOrange = [[-2.192, 0.006], [-2.156, 0.013], [-2.125, 0.023], [-2.094, 0.036], [-2.063, 0.068], [-2.032, 0.1], [-2.001, 0.145], [-1.97, 0.216], [-1.939, 0.293], [-1.908, 0.409], [-1.877, 0.55], [-1.846, 0.717], [-1.815, 0.871], [-1.789, 0.907], [-1.765, 0.871], [-1.74, 0.807], [-1.709, 0.73], [-1.69, 0.666], [-1.659, 0.537], [-1.628, 0.409], [-1.597, 0.267], [-1.566, 0.152], [-1.535, 0.094], [-1.504, 0.055], [-1.473, 0.023], [-1.442, 0.008], [-1.376, 0.006]];
const xKdeGreen = [[-2.176, 0.0], [-2.125, 0.003], [-2.076, 0.008], [-2.038, 0.017], [-2.014, 0.049], [-1.989, 0.107], [-1.958, 0.216], [-1.926, 0.344], [-1.902, 0.473], [-1.877, 0.627], [-1.852, 0.685], [-1.827, 0.704], [-1.808, 0.73], [-1.79, 0.781], [-1.771, 0.833], [-1.759, 0.85], [-1.74, 0.833], [-1.715, 0.769], [-1.69, 0.679], [-1.665, 0.614], [-1.64, 0.537], [-1.616, 0.434], [-1.591, 0.319], [-1.566, 0.177], [-1.535, 0.1], [-1.504, 0.068], [-1.473, 0.03], [-1.442, 0.008], [-1.404, 0.004]];
const xKdeMagenta = [[-2.112, 0.004], [-2.076, 0.013], [-2.045, 0.03], [-2.014, 0.068], [-1.982, 0.139], [-1.951, 0.242], [-1.92, 0.357], [-1.889, 0.499], [-1.858, 0.679], [-1.827, 0.833], [-1.789, 0.9], [-1.759, 0.859], [-1.728, 0.794], [-1.703, 0.743], [-1.678, 0.653], [-1.653, 0.537], [-1.628, 0.422], [-1.597, 0.28], [-1.566, 0.139], [-1.535, 0.075], [-1.504, 0.049], [-1.486, 0.042]];

const zKdeBlue = [[1.732, 0.019], [1.815, 0.022], [1.899, 0.019], [1.955, 0.026], [1.996, 0.051], [2.066, 0.148], [2.136, 0.276], [2.205, 0.379], [2.275, 0.495], [2.344, 0.636], [2.414, 0.765], [2.47, 0.81], [2.539, 0.81], [2.581, 0.842], [2.623, 0.906], [2.665, 0.964], [2.692, 0.981], [2.734, 0.945], [2.79, 0.842], [2.845, 0.713], [2.901, 0.572], [2.957, 0.443], [3.013, 0.328], [3.068, 0.225], [3.124, 0.148], [3.18, 0.116], [3.249, 0.103], [3.319, 0.077], [3.395, 0.045]];
const zKdeOrange = [[1.639, 0.023], [1.718, 0.03], [1.788, 0.035], [1.857, 0.045], [1.927, 0.071], [1.996, 0.135], [2.066, 0.212], [2.136, 0.328], [2.205, 0.495], [2.275, 0.598], [2.344, 0.7], [2.4, 0.79], [2.456, 0.88], [2.511, 0.913], [2.567, 0.913], [2.623, 0.893], [2.678, 0.855], [2.734, 0.803], [2.79, 0.726], [2.845, 0.611], [2.901, 0.456], [2.957, 0.315], [3.013, 0.212], [3.068, 0.161], [3.124, 0.109], [3.18, 0.071], [3.249, 0.039], [3.319, 0.019], [3.43, 0.01]];
const zKdeGreen = [[1.732, 0.017], [1.815, 0.022], [1.899, 0.03], [1.969, 0.045], [2.038, 0.071], [2.094, 0.109], [2.15, 0.186], [2.205, 0.289], [2.275, 0.431], [2.344, 0.585], [2.414, 0.739], [2.484, 0.88], [2.539, 0.958], [2.595, 0.99], [2.623, 1.0], [2.678, 0.99], [2.734, 0.945], [2.79, 0.855], [2.845, 0.739], [2.901, 0.611], [2.957, 0.482], [3.013, 0.405], [3.054, 0.353], [3.11, 0.251], [3.18, 0.122], [3.249, 0.058], [3.319, 0.032], [3.458, 0.019]];
const zKdeMagenta = [[1.839, 0.039], [1.899, 0.058], [1.969, 0.096], [2.038, 0.161], [2.108, 0.238], [2.177, 0.328], [2.247, 0.456], [2.317, 0.585], [2.372, 0.713], [2.428, 0.829], [2.484, 0.906], [2.539, 0.945], [2.574, 0.951], [2.623, 0.932], [2.678, 0.88], [2.734, 0.816], [2.79, 0.726], [2.845, 0.598], [2.901, 0.482], [2.957, 0.379], [3.013, 0.302], [3.068, 0.225], [3.124, 0.148], [3.18, 0.096], [3.249, 0.045], [3.319, 0.013], [3.388, 0.004], [3.518, 0.0]];

// ---- ticks ----
const alphaKdeTicks = [1, 2, 3, 4, 5];
const betaKdeTicks = [5, 10, 15, 20, 25, 30];
const xKdeTicks = [-2.2, -2.0, -1.8, -1.6, -1.4];
const zKdeTicks = [1.75, 2.0, 2.25, 2.5, 2.75, 3.0, 3.25, 3.5];
const alphaTraceTicks = [1, 2, 3, 4, 5];
const betaTraceTicks = [10, 20, 30];
const xTraceTicks = [-2.2, -2.0, -1.8, -1.6, -1.4];
const zTraceTicks = [2.0, 2.5, 3.0, 3.5];

type Pt = number[];

interface Row {
  title: string[];
  kde: Pt[][];
  trace: number[][];
  kdeTicks: number[];
  traceTicks: number[];
  kdeFmt: (v: number) => string;
  traceFmt: (v: number) => string;
}

const rows: Row[] = [
  {
    title: ['ab', 'alpha'],
    kde: [alphaKdeBlue, alphaKdeOrange, alphaKdeGreen, alphaKdeMagenta],
    trace: [alphaBlue, alphaOrange, alphaGreen, alphaMagenta],
    kdeTicks: alphaKdeTicks,
    traceTicks: alphaTraceTicks,
    kdeFmt: d3.format('d'),
    traceFmt: d3.format('d'),
  },
  {
    title: ['ab', 'beta'],
    kde: [betaKdeBlue, betaKdeOrange, betaKdeGreen, betaKdeMagenta],
    trace: [betaBlue, betaOrange, betaGreen, betaMagenta],
    kdeTicks: betaKdeTicks,
    traceTicks: betaTraceTicks,
    kdeFmt: d3.format('d'),
    traceFmt: d3.format('d'),
  },
  {
    title: ['X'],
    kde: [xKdeBlue, xKdeOrange, xKdeGreen, xKdeMagenta],
    trace: [xBlue, xOrange, xGreen, xMagenta],
    kdeTicks: xKdeTicks,
    traceTicks: xTraceTicks,
    kdeFmt: d3.format('.1f'),
    traceFmt: d3.format('.1f'),
  },
  {
    title: ['Z'],
    kde: [zKdeBlue, zKdeOrange, zKdeGreen, zKdeMagenta],
    trace: [zBlue, zOrange, zGreen, zMagenta],
    kdeTicks: zKdeTicks,
    traceTicks: zTraceTicks,
    kdeFmt: d3.format('.2f'),
    traceFmt: d3.format('.1f'),
  },
];

const W = 2423;
const H = 1618;
const leftCol: [number, number] = [19.5, 1155.5];
const rightCol: [number, number] = [1268, 2403];
const rowTops = [90.7, 509, 891, 1272.7];
const rowH = 287;
const bg = '#eeeeee';
const textColor = '#222222';
const font = 'DejaVu Sans, Liberation Sans, sans-serif';
const tickSize = 28;
const titleSize = 31;

// matplotlib-style 5% padding around the data range
function padded(ext: [number, number]): [number, number] {
  const m = (ext[1] - ext[0]) * 0.05;
  return [ext[0] - m, ext[1] + m];
}

export default function App() {
  const svgRef = useRef<SVGSVGElement>(null);

  useEffect(() => {
    if (!svgRef.current) return;
    const svg = d3.select(svgRef.current);
    svg.selectAll('*').remove();

    svg.append('rect').attr('width', W).attr('height', H).attr('fill', '#ffffff');

    rows.forEach((row, r) => {
      const top = rowTops[r];
      const bottom = top + rowH;

      const addTitle = (cx: number) => {
        const n = row.title.length;
        row.title.forEach((line, i) => {
          svg.append('text')
            .attr('x', cx)
            .attr('y', top - 15 - (n - 1 - i) * 33)
            .attr('text-anchor', 'middle')
            .attr('font-family', font)
            .attr('font-size', titleSize)
            .attr('fill', textColor)
            .text(line);
        });
      };

      // Density panel
      const pts = row.kde.flat();
      const xk = d3.scaleLinear()
        .domain(padded(d3.extent(pts, d => d[0]) as [number, number]))
        .range(leftCol);
      const yk = d3.scaleLinear()
        .domain(padded(d3.extent(pts, d => d[1]) as [number, number]))
        .range([bottom, top]);

      const gk = svg.append('g');
      gk.append('rect')
        .attr('x', leftCol[0])
        .attr('y', top)
        .attr('width', leftCol[1] - leftCol[0])
        .attr('height', rowH)
        .attr('fill', bg);

      row.kdeTicks.forEach(t => {
        gk.append('line')
          .attr('x1', xk(t)).attr('x2', xk(t))
          .attr('y1', top).attr('y2', bottom)
          .attr('stroke', '#ffffff')
          .attr('stroke-width', 2);
        gk.append('text')
          .attr('x', xk(t))
          .attr('y', bottom + 32)
          .attr('text-anchor', 'middle')
          .attr('font-family', font)
          .attr('font-size', tickSize)
          .attr('fill', textColor)
          .text(row.kdeFmt(t));
      });

      const kdeLine = d3.line<Pt>()
        .x(d => xk(d[0]))
        .y(d => yk(d[1]))
        .curve(d3.curveCatmullRom.alpha(0.5));

      row.kde.forEach((curve, c) => {
        gk.append('path')
          .datum(curve)
          .attr('fill', 'none')
          .attr('stroke', chainColors[c])
          .attr('stroke-width', 2.8)
          .attr('stroke-linecap', 'round')
          .attr('d', kdeLine);
      });

      addTitle((leftCol[0] + leftCol[1]) / 2);

      // Trace panel
      const xt = d3.scaleLinear().domain(drawRange).range(rightCol);
      const yt = d3.scaleLinear()
        .domain(padded(d3.extent(row.trace.flat()) as [number, number]))
        .range([bottom, top]);

      const gt = svg.append('g');
      gt.append('rect')
        .attr('x', rightCol[0])
        .attr('y', top)
        .attr('width', rightCol[1] - rightCol[0])
        .attr('height', rowH)
        .attr('fill', bg);

      drawTicks.forEach(t => {
        gt.append('line')
          .attr('x1', xt(t)).attr('x2', xt(t))
          .attr('y1', top).attr('y2', bottom)
          .attr('stroke', '#ffffff')
          .attr('stroke-width', 2);
        gt.append('text')
          .attr('x', xt(t))
          .attr('y', bottom + 32)
          .attr('text-anchor', 'middle')
          .attr('font-family', font)
          .attr('font-size', tickSize)
          .attr('fill', textColor)
          .text(d3.format('d')(t));
      });

      row.traceTicks.forEach(t => {
        gt.append('line')
          .attr('x1', rightCol[0]).attr('x2', rightCol[1])
          .attr('y1', yt(t)).attr('y2', yt(t))
          .attr('stroke', '#ffffff')
          .attr('stroke-width', 2);
        gt.append('text')
          .attr('x', rightCol[0] - 12)
          .attr('y', yt(t))
          .attr('dy', '0.36em')
          .attr('text-anchor', 'end')
          .attr('font-family', font)
          .attr('font-size', tickSize)
          .attr('fill', textColor)
          .text(row.traceFmt(t));
      });

      const traceLine = d3.line<number>()
        .x((_, i) => xt(i * thin))
        .y(d => yt(d));

      row.trace.forEach((chain, c) => {
        gt.append('path')
          .datum(chain)
          .attr('fill', 'none')
          .attr('stroke', chainColors[c])
          .attr('stroke-opacity', 0.38)
          .attr('stroke-width', 2.4)
          .attr('stroke-linejoin', 'round')
          .attr('d', traceLine);
      });

      addTitle((rightCol[0] + rightCol[1]) / 2);
    });
  }, []);

  return (
    <svg
      ref={svgRef}
      width={W}
      height={H}
      style={{ position: 'absolute', left: 0, top: 0, display: 'block' }}
    />
  );
}
